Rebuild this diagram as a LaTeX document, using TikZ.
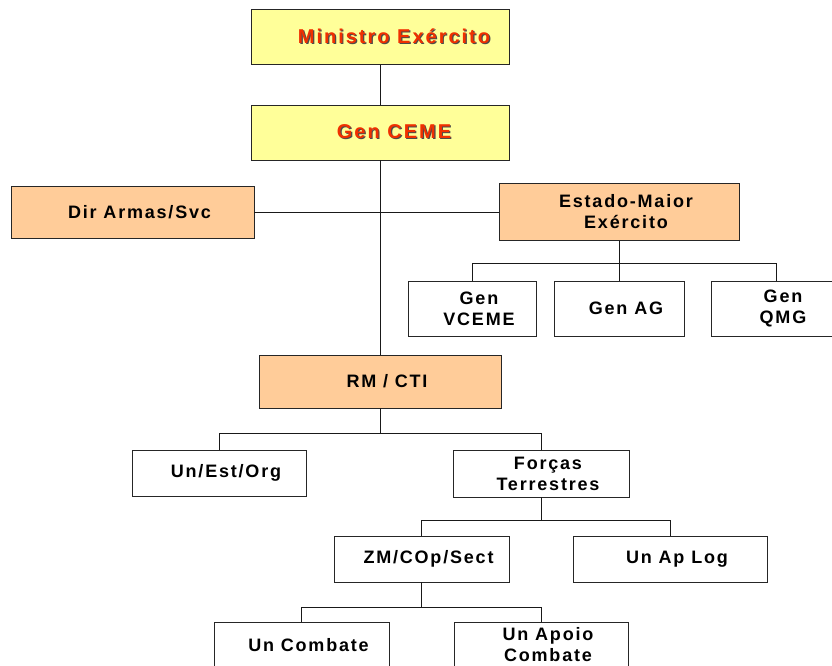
\documentclass[tikz,border=0pt]{standalone}
\usepackage{fontspec}
\newfontfamily\orgfont[LetterSpace=10]{Liberation Sans}
\definecolor{chefia}{HTML}{FFFF99}
\definecolor{estado}{HTML}{FFCC99}
\definecolor{chefetxt}{HTML}{F03000}
\newcommand{\sombra}[1]{\rlap{\kern1.2pt\raisebox{-1.2pt}{\color{black!70}#1}}\textcolor{chefetxt}{#1}}
\tikzset{
  caixa/.style={draw=black!85, line width=0.8pt, align=center, inner sep=2pt,
    font=\orgfont\bfseries\fontsize{18}{21}\selectfont,
    execute at begin node={\hspace*{14pt}}},
  topo/.style={caixa, fill=chefia, minimum width=258pt, minimum height=55pt,
    font=\orgfont\bfseries\fontsize{20}{22}\selectfont,
    execute at begin node={\hspace*{14pt}}},
  orgao/.style={caixa, fill=estado},
  unidade/.style={caixa, fill=white},
  ligacao/.style={line width=0.8pt, black!90}
}
\begin{document}
\begin{tikzpicture}[x=1pt,y=-1pt]
\useasboundingbox (0,0) rectangle (832,666);

% comando
\node[topo] (min) at (380,37) {\sombra{Ministro Exército}};
\node[topo] (ceme) at (380,132.5) {\sombra{Gen CEME}};

% orgaos
\node[orgao, minimum width=243pt, minimum height=52pt] (dir) at (132.5,212) {Dir Armas/Svc};
\node[orgao, minimum width=240pt, minimum height=57pt] (ema) at (619,212) {Estado-Maior\\Exército};
\node[orgao, minimum width=242pt, minimum height=53pt] (rm) at (380,381.5) {RM / CTI};

% dependentes do EME
\node[unidade, minimum width=128pt, minimum height=55pt] (vceme) at (472,308.5) {Gen\\VCEME};
\node[unidade, minimum width=130pt, minimum height=55pt] (ag) at (619,308.5) {Gen AG};
\node[unidade, minimum width=130pt, minimum height=55pt] (qmg) at (776,308.5) {Gen\\QMG};

% dependentes da RM
\node[unidade, minimum width=174pt, minimum height=46pt] (uneo) at (219,473) {Un/Est/Org};
\node[unidade, minimum width=176pt, minimum height=47pt] (forcas) at (541,473.5) {Forças\\Terrestres};
\node[unidade, minimum width=175pt, minimum height=46pt] (zm) at (421.5,559) {ZM/COp/Sect};
\node[unidade, minimum width=194pt, minimum height=46pt] (aplog) at (670,559) {Un Ap Log};
\node[unidade, minimum width=175pt, minimum height=46pt] (comb) at (301.5,645) {Un Combate};
\node[unidade, minimum width=174pt, minimum height=46pt] (apoio) at (541,645) {Un Apoio\\Combate};

% ligacoes
\draw[ligacao] (min) -- (ceme);
\draw[ligacao] (ceme) -- (rm);
\draw[ligacao] (dir) -- (ema);
\draw[ligacao] (ema) -- (ag);
\draw[ligacao] (ema.south) -- ++(0,22) coordinate (j1);
\draw[ligacao] (vceme.north) |- (j1) -| (qmg.north);
\draw[ligacao] (rm.south) -- ++(0,25) coordinate (j2);
\draw[ligacao] (uneo.north) |- (j2) -| (forcas.north);
\draw[ligacao] (forcas.south) -- ++(0,23) coordinate (j3);
\draw[ligacao] (zm.north) |- (j3) -| (aplog.north);
\draw[ligacao] (zm.south) -- ++(0,25) coordinate (j4);
\draw[ligacao] (comb.north) |- (j4) -| (apoio.north);
\end{tikzpicture}
\end{document}
